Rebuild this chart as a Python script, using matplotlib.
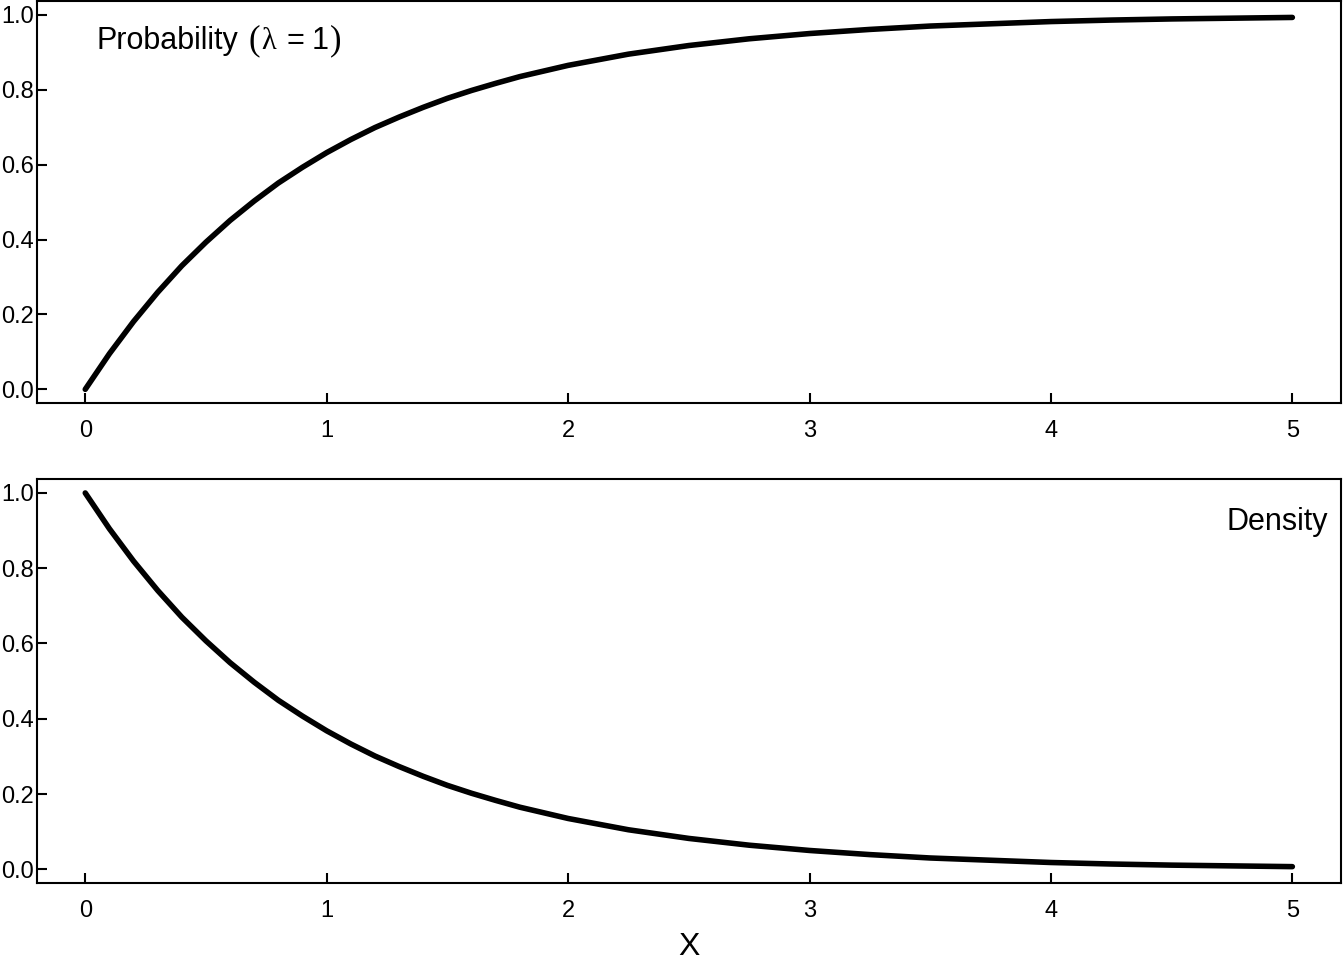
import matplotlib
matplotlib.use('Agg')
import matplotlib.pyplot as plt

plt.rcParams['font.family'] = ['Liberation Sans', 'DejaVu Sans']

# values (finer steps where the curves bend most)
x_vals = [0.0, 0.1, 0.2, 0.3, 0.4, 0.5, 0.6, 0.7, 0.8, 0.9, 1.0,
          1.1, 1.2, 1.3, 1.4, 1.5, 1.6, 1.7, 1.8, 1.9, 2.0,
          2.25, 2.5, 2.75, 3.0, 3.25, 3.5, 3.75, 4.0, 4.25, 4.5, 4.75, 5.0]
prob_vals = [0.000, 0.095, 0.181, 0.259, 0.330, 0.393, 0.451, 0.503, 0.551,
             0.593, 0.632, 0.667, 0.699, 0.727, 0.753, 0.777, 0.798, 0.817,
             0.835, 0.850, 0.865, 0.895, 0.918, 0.936, 0.950, 0.961, 0.970,
             0.976, 0.982, 0.986, 0.989, 0.991, 0.993]
dens_vals = [1.000, 0.905, 0.819, 0.741, 0.670, 0.607, 0.549, 0.497, 0.449,
             0.407, 0.368, 0.333, 0.301, 0.273, 0.247, 0.223, 0.202, 0.183,
             0.165, 0.150, 0.135, 0.105, 0.082, 0.064, 0.050, 0.039, 0.030,
             0.024, 0.018, 0.014, 0.011, 0.009, 0.007]
x_ticks = [0, 1, 2, 3, 4, 5]
y_ticks = [0.0, 0.2, 0.4, 0.6, 0.8, 1.0]

W, H = 1344, 960


def style_axis(ax):
    ax.set_xlim(-0.2, 5.2)
    ax.set_ylim(-0.037, 1.037)
    ax.set_xticks(x_ticks)
    ax.set_yticks(y_ticks)
    ax.set_yticklabels([f'{v:.1f}' for v in y_ticks])
    ax.tick_params(axis='both', direction='in', length=7, width=1.5,
                   labelsize=17)
    ax.tick_params(axis='x', pad=12)
    ax.tick_params(axis='y', pad=2)
    for sp in ax.spines.values():
        sp.set_linewidth(1.5)


fig = plt.figure(figsize=(W / 100, H / 100), dpi=100)
ax1 = fig.add_axes([0.0275, 0.580, 0.970, 0.419])
ax2 = fig.add_axes([0.0275, 0.080, 0.970, 0.421])

ax1.plot(x_vals, prob_vals, color='black', lw=4, solid_capstyle='round',
         solid_joinstyle='round')
style_axis(ax1)

# title like R plotmath: sans words, serif lambda and parentheses
baseline = 1 - 49 / H
title_parts = [
    (97, 'Probability', 'Liberation Sans', 22),
    (249, '(', 'Liberation Serif', 25),
    (261, 'λ', 'Liberation Serif', 22),
    (286, '=', 'Liberation Sans', 22),
    (312, '1', 'Liberation Sans', 22),
    (330, ')', 'Liberation Serif', 25),
]
for px, s, fam, size in title_parts:
    fig.text(px / W, baseline, s, family=fam, fontsize=size,
             ha='left', va='baseline')

ax2.plot(x_vals, dens_vals, color='black', lw=4, solid_capstyle='round',
         solid_joinstyle='round')
style_axis(ax2)
ax2.text(0.99, 0.893, 'Density', transform=ax2.transAxes,
         fontsize=22, ha='right', va='center')
ax2.set_xlabel('X', fontsize=23, labelpad=7)

fig.savefig('out.png', dpi=100)
plt.close(fig)
